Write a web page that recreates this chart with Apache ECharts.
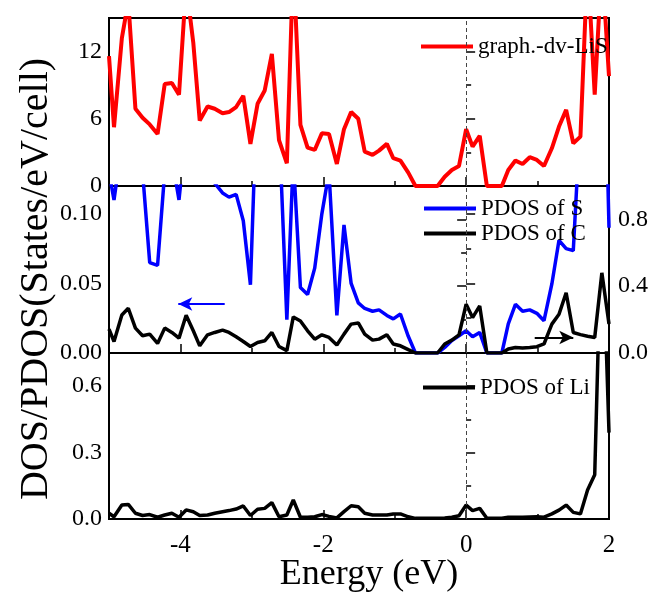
<!DOCTYPE html>
<html>
<head>
<meta charset="utf-8">
<script src="https://cdn.jsdelivr.net/npm/echarts@6/dist/echarts.min.js"></script>
<style>
html,body{margin:0;padding:0;background:#fff;}
#main{width:662px;height:605px;}
</style>
</head>
<body>
<div id="main"></div>
<script>
// Energy grid (eV)
const energy = [-5.00,-4.93,-4.82,-4.73,-4.63,-4.53,-4.43,-4.32,-4.22,-4.12,-4.02,-3.92,-3.82,-3.73,-3.62,-3.52,-3.41,-3.32,-3.22,-3.12,-3.02,-2.92,-2.82,-2.72,-2.62,-2.51,-2.42,-2.32,-2.22,-2.12,-2.02,-1.92,-1.81,-1.71,-1.61,-1.51,-1.42,-1.31,-1.22,-1.11,-1.02,-0.92,-0.81,-0.71,-0.61,-0.51,-0.40,-0.30,-0.20,-0.10,0.00,0.09,0.19,0.29,0.40,0.50,0.59,0.69,0.79,0.89,0.99,1.09,1.20,1.30,1.40,1.50,1.60,1.70,1.80,1.90,2.00];
// Total DOS graph.-dv-LiS
const dosTotal = [11.6,5.25,13.2,16.5,6.9,6.1,5.5,4.65,9.1,9.2,8.15,18,12.8,5.85,7.1,6.9,6.5,6.6,7.05,8.06,3.76,7.34,8.53,11.8,4.1,2.03,20,5.46,3.43,3.22,4.7,4.65,1.97,5.07,6.6,6.0,3.07,2.78,3.16,3.76,2.48,2.27,1.19,0,0,0,0,0.83,1.43,1.79,5.07,3.52,4.48,0,0,0,1.43,2.27,1.97,2.57,2.33,1.79,3.37,5.31,6.8,3.82,4.41,20,8.15,20,9.8];
// PDOS of S (left axis)
const pdosS = [0.13,0.11,0.15,0.2,0.2,0.13,0.065,0.063,0.13,0.14,0.110,0.16,0.3,0.3,0.3,0.122,0.115,0.112,0.114,0.095,0.049,0.2,0.3,0.3,0.165,0.024,0.14,0.047,0.042,0.061,0.1,0.13,0.027,0.092,0.050,0.036,0.032,0.030,0.031,0.027,0.0245,0.028,0.012,0,0,0,0,0.004,0.009,0.0124,0.016,0.0117,0.0148,0,0,0,0.021,0.035,0.030,0.031,0.0285,0.0232,0.0496,0.081,0.075,0.0736,0.17,0.3,0.3,0.3,0.09];
// PDOS of C (right axis)
const pdosC = [0.143,0.069,0.228,0.268,0.149,0.103,0.113,0.057,0.149,0.123,0.089,0.226,0.133,0.043,0.109,0.123,0.137,0.123,0.097,0.069,0.039,0.063,0.073,0.123,0.039,0.014,0.216,0.192,0.133,0.083,0.109,0.093,0.048,0.113,0.173,0.180,0.113,0.077,0.083,0.109,0.054,0.043,0.02,0,0,0,0,0.054,0.077,0.109,0.292,0.212,0.282,0,0,0,0.024,0.033,0.030,0.033,0.038,0.054,0.173,0.232,0.361,0.123,0.11,0.10,0.093,0.48,0.173];
// PDOS of Li
const pdosLi = [0.026,0.01,0.063,0.066,0.026,0.016,0.02,0.008,0.018,0.026,0.008,0.041,0.033,0.016,0.018,0.026,0.033,0.038,0.045,0.059,0.016,0.044,0.048,0.074,0.01,0.018,0.086,0.008,0.008,0.01,0.02,0.012,0.005,0.033,0.06,0.055,0.026,0.018,0.018,0.018,0.023,0.023,0.01,0.003,0.003,0.003,0.003,0.005,0.008,0.015,0.063,0.038,0.048,0.003,0.003,0.003,0.008,0.008,0.008,0.009,0.01,0.008,0.023,0.04,0.063,0.03,0.023,0.131,0.2,1.4,0.39];
// Tick values
const xMajorTicks = [-4,-2,0,2];
const xMinorTicks = [-3,-1,1];

const pairs = arr => energy.map((e,i)=>[e, arr[i]]);
const FONT = '"Liberation Serif","Times New Roman",serif';

const grids = [
  {left:109, right:53, top:18, height:168},
  {left:109, right:53, top:186, height:167},
  {left:109, right:53, top:353, height:166}
].map(g=>Object.assign({show:true, borderColor:'#000', borderWidth:2, backgroundColor:'transparent'}, g));

const xAxes = [];
for (let i=0;i<3;i++){
  xAxes.push({
    type:'value', gridIndex:i, min:-5, max:2, position:'bottom',
    axisLine:{show:false}, splitLine:{show:false},
    axisTick:{show:true, inside:true, length:9, customValues:xMajorTicks, lineStyle:{color:'#000', width:1.5}},
    axisLabel:{show:i===2, customValues:xMajorTicks, color:'#000', fontFamily:FONT, fontSize:25, margin:14,
      formatter:v=>String(v)}
  });
  xAxes.push({
    type:'value', gridIndex:i, min:-5, max:2, position:'bottom',
    axisLine:{show:false}, splitLine:{show:false}, axisLabel:{show:false},
    axisTick:{show:true, inside:true, length:5, customValues:xMinorTicks, lineStyle:{color:'#000', width:1.5}}
  });
}

const labelStyle = (fmt, margin)=>({color:'#000', fontFamily:FONT, fontSize:24, margin:margin||7,
  showMaxLabel:false, formatter:fmt});

const yCommon = (extra)=>Object.assign({
  type:'value', axisLine:{show:false}, splitLine:{show:false},
  axisTick:{show:true, inside:true, length:9, lineStyle:{color:'#000', width:1.5}},
  minorTick:{show:true, splitNumber:2, length:5, lineStyle:{color:'#000', width:1.5}},
  minorSplitLine:{show:false}
}, extra);

const yAxes = [
  yCommon({gridIndex:0, min:0, max:15, interval:6, position:'left', axisLabel:labelStyle(v=>String(v))}),
  yCommon({gridIndex:1, min:0, max:0.12, interval:0.05, position:'left', axisLabel:labelStyle(v=>v.toFixed(2))}),
  yCommon({gridIndex:1, min:0, max:1.0, interval:0.4, position:'right', axisLabel:labelStyle(v=>v.toFixed(1), 9)}),
  yCommon({gridIndex:2, min:0, max:0.75, interval:0.3, position:'left', axisLabel:labelStyle(v=>v.toFixed(1))})
];

const zeroLine = {
  silent:true, symbol:'none', label:{show:false},
  lineStyle:{color:'#444', type:[4,3], width:1},
  data:[{xAxis:0}]
};

const lineIcon = 'path://M0,0 L52,0 L52,4 L0,4 Z';
const legendText = {fontFamily:FONT, fontSize:23, color:'#000'};

const option = {
  animation:false,
  backgroundColor:'#fff',
  grid:grids,
  xAxis:xAxes,
  yAxis:yAxes,
  legend:[
    {data:[{name:'graph.-dv-LiS', icon:lineIcon}], left:416, top:30, itemWidth:52, itemHeight:4, textStyle:legendText},
    {data:[{name:'PDOS of S', icon:lineIcon}], left:419, top:192, itemWidth:52, itemHeight:4, textStyle:legendText},
    {data:[{name:'PDOS of C', icon:lineIcon}], left:419, top:217, itemWidth:52, itemHeight:4, textStyle:legendText},
    {data:[{name:'PDOS of Li', icon:lineIcon}], left:418, top:371, itemWidth:52, itemHeight:4, textStyle:legendText}
  ],
  graphic:[
    {type:'text', x:36, y:279, rotation:Math.PI/2,
      style:{text:'DOS/PDOS(States/eV/cell)', fontFamily:FONT, fontSize:40, fill:'#000', align:'center', verticalAlign:'middle'}},
    {type:'text', x:369, y:575,
      style:{text:'Energy (eV)', fontFamily:FONT, fontSize:36, fill:'#000', align:'center', verticalAlign:'middle'}}
  ],
  series:[
    {name:'graph.-dv-LiS', type:'line', xAxisIndex:0, yAxisIndex:0, data:pairs(dosTotal),
      symbol:'none', lineStyle:{color:'#ff0000', width:4}, itemStyle:{color:'#ff0000'}, markLine:zeroLine},
    {name:'PDOS of S', type:'line', xAxisIndex:2, yAxisIndex:1, data:pairs(pdosS),
      symbol:'none', lineStyle:{color:'#0000ff', width:3.5}, itemStyle:{color:'#0000ff'}, markLine:zeroLine},
    {name:'PDOS of C', type:'line', xAxisIndex:2, yAxisIndex:2, data:pairs(pdosC),
      symbol:'none', lineStyle:{color:'#000', width:3.5}, itemStyle:{color:'#000'},
      markLine:{silent:true, label:{show:false}, symbol:['none','arrow'], symbolSize:[10,14],
        lineStyle:{color:'#000', type:'solid', width:2},
        data:[[{coord:[0.96,0.093]},{coord:[1.50,0.093]}]]}},
    {name:'S arrow', type:'line', xAxisIndex:2, yAxisIndex:1, data:[],
      markLine:{silent:true, label:{show:false}, symbol:['none','arrow'], symbolSize:[10,14],
        lineStyle:{color:'#0000ff', type:'solid', width:2},
        data:[[{coord:[-3.38,0.0352]},{coord:[-4.03,0.0352]}]]}},
    {name:'PDOS of Li', type:'line', xAxisIndex:4, yAxisIndex:3, data:pairs(pdosLi),
      symbol:'none', lineStyle:{color:'#000', width:3.5}, itemStyle:{color:'#000'}, markLine:zeroLine}
  ]
};
const chart = echarts.init(document.getElementById('main'), null, {renderer:'canvas'});
chart.setOption(option);
</script>
</body>
</html>
